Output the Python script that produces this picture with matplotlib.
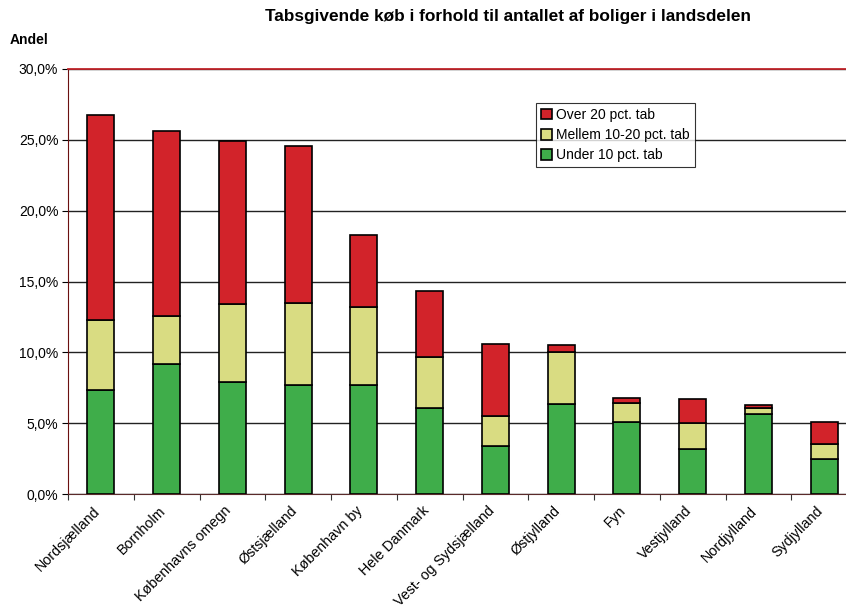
import numpy as np
import matplotlib
matplotlib.use('Agg')
import matplotlib.pyplot as plt
import matplotlib.transforms as mtransforms
from matplotlib.ticker import FuncFormatter, FixedLocator

plt.rcParams['font.family'] = ['Liberation Sans', 'DejaVu Sans']

# andel tabsgivende koeb, pct. af boliger i landsdelen
landsdele = ['Nordsjælland', 'Bornholm', 'Københavns omegn', 'Østsjælland',
             'København by', 'Hele Danmark', 'Vest- og Sydsjælland', 'Østjylland',
             'Fyn', 'Vestjylland', 'Nordjylland', 'Sydjylland']
under10 = [7.35, 9.15, 7.9, 7.7, 7.7, 6.1, 3.4, 6.35, 5.1, 3.2, 5.65, 2.5]
mellem10_20 = [4.95, 3.4, 5.5, 5.8, 5.5, 3.6, 2.1, 3.7, 1.3, 1.8, 0.4, 1.05]
over20 = [14.45, 13.05, 11.5, 11.1, 5.1, 4.6, 5.1, 0.45, 0.4, 1.7, 0.2, 1.55]

farve_over = '#d2232a'
farve_mellem = '#d9dc82'
farve_under = '#3fad4a'

fig = plt.figure(figsize=(8.46, 6.11), dpi=100)
ax = fig.add_axes([68/846, 117/611, 789/846, 425/611])

x = np.arange(len(landsdele))
b1 = np.array(under10)
b2 = b1 + np.array(mellem10_20)

ax.bar(x, under10, width=0.41, color=farve_under, edgecolor='black', linewidth=1.2,
       label='Under 10 pct. tab', zorder=3)
ax.bar(x, mellem10_20, width=0.41, bottom=b1, color=farve_mellem, edgecolor='black',
       linewidth=1.2, label='Mellem 10-20 pct. tab', zorder=3)
ax.bar(x, over20, width=0.41, bottom=b2, color=farve_over, edgecolor='black',
       linewidth=1.2, label='Over 20 pct. tab', zorder=3)

ax.set_xlim(-0.5, len(landsdele) - 0.5)
ax.set_ylim(0, 30)
ax.set_yticks(np.arange(0, 31, 5))
ax.yaxis.set_major_formatter(FuncFormatter(lambda v, p: ('%.1f%%' % v).replace('.', ',')))
ax.yaxis.grid(True, color='#222222', linewidth=1.0, zorder=0)
ax.tick_params(axis='y', direction='out', length=4, width=0.8, labelsize=10, pad=3)

# kategorinavne midt under soejlerne, tickmarks mellem dem
ax.set_xticks(x)
ax.set_xticklabels(landsdele, rotation=45, ha='right', rotation_mode='anchor', fontsize=10.3)
ax.tick_params(axis='x', which='major', length=0, pad=7)
ax.xaxis.set_minor_locator(FixedLocator(np.arange(-0.5, len(landsdele), 1)))
ax.tick_params(axis='x', which='minor', length=4, width=0.8, direction='out', color='#333333')
flyt = mtransforms.ScaledTranslation(-8/100, 0, fig.dpi_scale_trans)
for lbl in ax.get_xticklabels():
    lbl.set_transform(lbl.get_transform() + flyt)

ax.spines['left'].set_color('#6b1010')
ax.spines['bottom'].set_color('#5a2a2a')
ax.spines['top'].set_color('#c0242a')
ax.spines['top'].set_linewidth(1.3)
ax.spines['right'].set_visible(False)

handles, labels = ax.get_legend_handles_labels()
leg = ax.legend(handles[::-1], labels[::-1], loc='upper left',
                bbox_to_anchor=(536/846, 1 - 103/611), bbox_transform=fig.transFigure,
                fontsize=10, frameon=True, fancybox=False,
                edgecolor='black', handlelength=0.8, handleheight=0.8, handletextpad=0.3,
                borderpad=0.35, labelspacing=0.45, borderaxespad=0)
leg.get_frame().set_linewidth(0.8)

fig.text(508/846, 1 - 17/611, 'Tabsgivende køb i forhold til antallet af boliger i landsdelen',
         ha='center', va='center', fontsize=12.4, fontweight='bold')
fig.text(10/846, 1 - 40/611, 'Andel', ha='left', va='center', fontsize=10, fontweight='bold')

fig.savefig('out.png', dpi=100)
